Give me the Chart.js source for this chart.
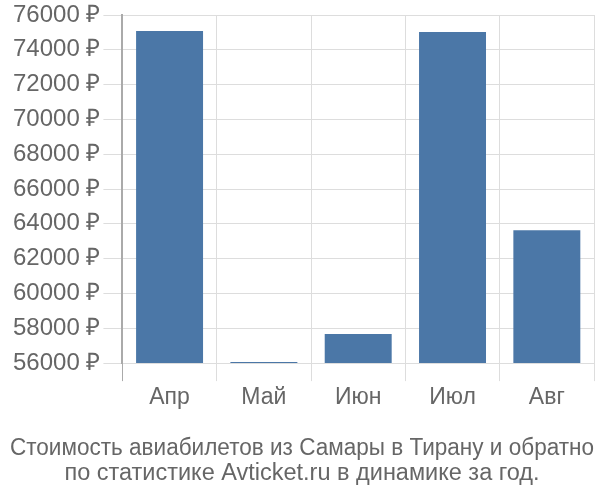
<!DOCTYPE html>
<html><head><meta charset="utf-8">
<script src="https://cdn.jsdelivr.net/npm/chart.js@4"></script>
<style>html,body{margin:0;padding:0;background:#fff}#w{width:600px;height:500px}</style>
</head><body><div id="w"><canvas id="c"></canvas></div>
<script>
const categories = ["Апр", "Май", "Июн", "Июл", "Авг"];
const prices = [75080, 56060, 57670, 75030, 63640];
const yTicks = [56000, 58000, 60000, 62000, 64000, 66000, 68000, 70000, 72000, 74000, 76000];
const titleLines = ["Стоимость авиабилетов из Самары в Тирану и обратно", "по статистике Avticket.ru в динамике за год."];

new Chart(document.getElementById('c'), {
  type: 'bar',
  data: { labels: categories, datasets: [{ data: prices, backgroundColor: '#4b77a7', borderColor: '#4b77a7', borderWidth: 0 }] },
  options: {
    responsive: true, maintainAspectRatio: false, animation: false,
    layout: { padding: { left: 10, right: 6, top: 0, bottom: 14 } },
    datasets: { bar: { barPercentage: 0.71, categoryPercentage: 1 } },
    plugins: {
      legend: { display: false }, tooltip: { enabled: false },
      title: { display: true, position: 'bottom', text: titleLines, color: '#666', font: { family: 'Liberation Sans', size: 23.5, weight: 'normal', lineHeight: 1.07 }, padding: { top: 21, bottom: 0 } }
    },
    scales: {
      x: {
        grid: { color: (ctx) => ctx.index === 0 ? '#aaaaaa' : '#dddddd', tickLength: 18, offset: true, lineWidth: 1 },
        border: { display: false },
        ticks: { color: '#666', font: { family: 'Liberation Sans', size: 23 }, padding: 3 }
      },
      y: {
        min: 56000, max: 76000,
        afterBuildTicks: (s) => { s.ticks = yTicks.map(v => ({ value: v })); },
        grid: { color: '#dddddd', tickLength: 19 },
        border: { color: '#aaaaaa', width: 2 },
        ticks: { color: '#666', font: { family: 'Liberation Sans', size: 24, lineHeight: 1.0 }, padding: 3, callback: (v) => v + ' ₽' }
      }
    }
  }
});
</script></body></html>
